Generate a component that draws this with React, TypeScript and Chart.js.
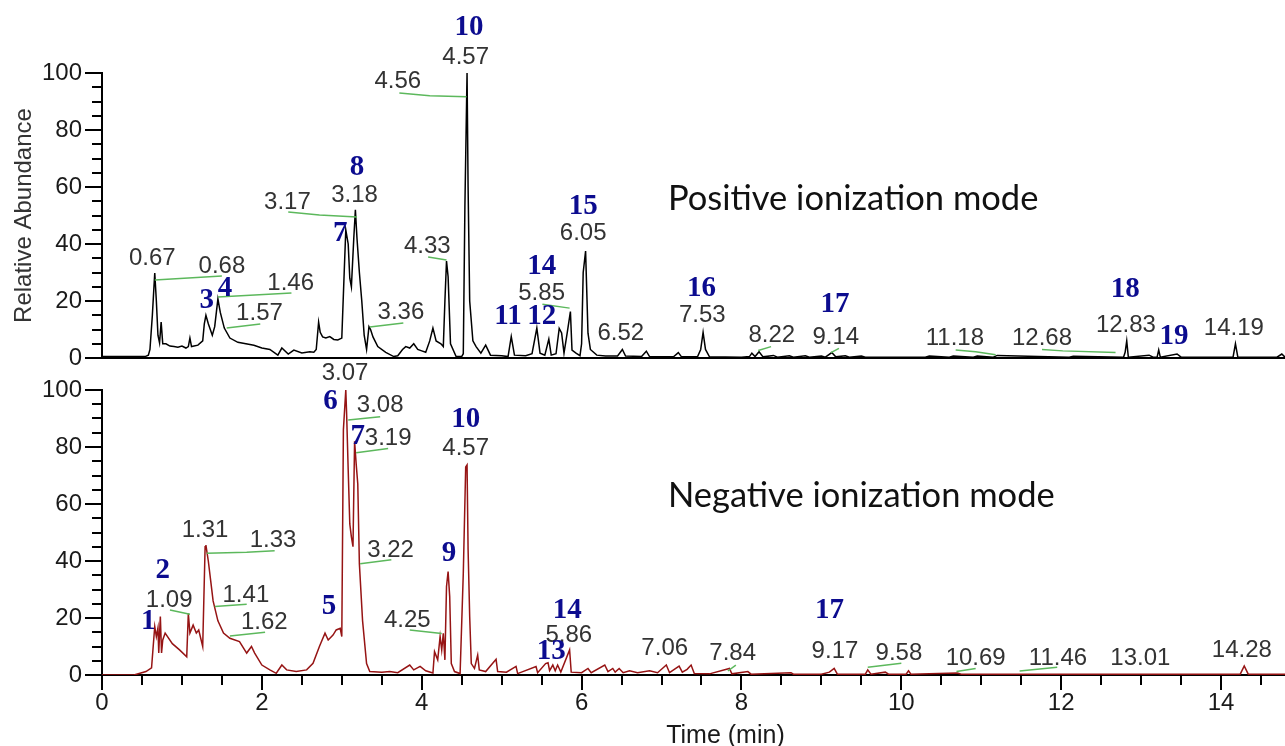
import React, { useEffect, useRef } from "react";
import { Chart, registerables } from "chart.js";
Chart.register(...registerables);

// ---------- Positive ionization mode (black trace) ----------
const posTime = [
  0, 0.54, 0.58, 0.6, 0.63, 0.65, 0.66, 0.68, 0.7, 0.72, 0.74, 0.76, 0.8, 0.85, 0.9, 0.95, 1.0, 1.05, 1.08, 1.1,
  1.12, 1.2, 1.26, 1.28, 1.3, 1.33, 1.38, 1.41, 1.45, 1.48, 1.53, 1.6, 1.7, 1.8, 1.9, 2.0, 2.1, 2.2, 2.25, 2.33,
  2.4, 2.5, 2.6, 2.65, 2.68, 2.71, 2.73, 2.76, 2.8, 2.85, 2.9, 2.95, 3.0, 3.03, 3.05, 3.08, 3.1, 3.12, 3.15, 3.17,
  3.19, 3.22, 3.25, 3.28, 3.31, 3.34, 3.36, 3.39, 3.45, 3.55, 3.65, 3.7, 3.76, 3.8, 3.85, 3.9, 3.95, 4.0, 4.05, 4.1,
  4.14, 4.18, 4.24, 4.27, 4.29, 4.31, 4.33, 4.36, 4.43, 4.5, 4.52, 4.54, 4.567, 4.58, 4.6, 4.64, 4.68, 4.74, 4.8, 4.86,
  5.0, 5.08, 5.12, 5.16, 5.3, 5.38, 5.44, 5.48, 5.54, 5.59, 5.62, 5.68, 5.72, 5.75, 5.78, 5.82, 5.86, 5.88, 5.93, 5.98,
  6.0, 6.02, 6.05, 6.08, 6.11, 6.19, 6.3, 6.45, 6.51, 6.55, 6.75, 6.81, 6.85, 7.15, 7.21, 7.25, 7.45, 7.49, 7.52, 7.55,
  7.6, 8.0, 8.1, 8.13, 8.17, 8.22, 8.27, 8.4, 8.45, 8.6, 8.65, 8.8, 8.85, 9.0, 9.05, 9.13, 9.18, 9.3, 9.35, 9.5,
  9.55, 10.3, 10.35, 10.6, 10.65, 10.9, 10.95, 11.15, 11.2, 12.1, 12.15, 12.78, 12.8, 12.82, 12.84, 13.1, 13.15, 13.2, 13.22, 13.24,
  13.45, 13.5, 14.15, 14.18, 14.21, 14.7, 14.76, 14.8,
];
const posAbund = [
  0.5, 0.5, 1, 3, 15, 25, 29.8, 20, 8, 5.3, 12.6, 5, 5, 4.2, 4, 3.8, 4.2, 3.5, 4, 7,
  4, 4.5, 6, 12, 15, 12, 8, 11, 20.7, 16, 10.5, 7, 5.5, 5, 4.5, 3.5, 3, 1, 3.5, 1.4,
  2.8, 1.8, 2.2, 2, 3, 12.6, 9, 7.4, 7, 7.5, 6.5, 6.3, 7, 30, 45, 40, 28, 25, 42, 52,
  42, 30, 20, 8, 3, 11, 10, 7.4, 4, 2, 0.5, 0.8, 3, 4, 3.5, 5, 3, 2.5, 2, 6,
  10.5, 6, 5, 4, 20, 34, 28.5, 5, 0.5, 0.5, 1.5, 53, 100, 60, 20, 6, 4, 1.7, 4.5, 1,
  0.8, 0.5, 7.5, 1, 0.8, 1.5, 10.5, 1.7, 1, 6.6, 1, 1.5, 10.4, 8.8, 1.7, 8.8, 16.3, 2.8, 1.7, 0.8,
  5, 30, 37.5, 8.7, 3, 1, 0.7, 0.7, 3, 0.7, 0.5, 2.4, 0.5, 0.4, 1.9, 0.4, 0.4, 3, 9, 3,
  0.4, 0.3, 0.5, 1.7, 0.5, 2.2, 0.4, 0.9, 0.3, 0.8, 0.3, 0.8, 0.3, 0.7, 0.3, 1.9, 0.4, 0.8, 0.3, 0.7,
  0.3, 0.3, 0.7, 0.3, 0.7, 0.3, 0.7, 0.3, 0.9, 0.3, 0.6, 0.3, 2, 6, 0.3, 1, 0.3, 0.3, 2.8, 0.3,
  1.4, 0.3, 0.3, 5, 0.3, 0.3, 1.4, 0.3,
];

// ---------- Negative ionization mode (dark red trace) ----------
const negTime = [
  0, 0.4, 0.55, 0.62, 0.65, 0.66, 0.68, 0.7, 0.71, 0.73, 0.745, 0.76, 0.79, 0.88, 0.97, 1.06, 1.08, 1.1, 1.14, 1.18,
  1.21, 1.26, 1.29, 1.3, 1.33, 1.36, 1.39, 1.45, 1.52, 1.6, 1.72, 1.81, 1.87, 1.91, 2.0, 2.1, 2.18, 2.25, 2.31, 2.43,
  2.56, 2.64, 2.72, 2.79, 2.83, 2.89, 2.93, 2.98, 3.0, 3.02, 3.05, 3.06, 3.08, 3.1, 3.12, 3.14, 3.16, 3.18, 3.2, 3.22,
  3.26, 3.31, 3.35, 3.5, 3.6, 3.7, 3.85, 3.9, 3.98, 4.05, 4.14, 4.16, 4.2, 4.23, 4.25, 4.27, 4.29, 4.31, 4.33, 4.35,
  4.37, 4.41, 4.48, 4.52, 4.55, 4.567, 4.58, 4.6, 4.62, 4.66, 4.7, 4.72, 4.8, 4.93, 4.95, 5.06, 5.18, 5.2, 5.43, 5.45,
  5.55, 5.58, 5.6, 5.64, 5.67, 5.7, 5.74, 5.85, 5.87, 6.0, 6.08, 6.12, 6.29, 6.33, 6.39, 6.42, 6.47, 6.52, 6.6, 6.7,
  6.85, 6.95, 7.06, 7.1, 7.22, 7.26, 7.32, 7.37, 7.41, 7.6, 7.85, 7.88, 8.08, 8.12, 8.62, 8.65, 9.0, 9.1, 9.16, 9.2,
  9.55, 9.58, 9.62, 9.8, 9.84, 10.06, 10.09, 10.12, 10.7, 10.75, 14.24, 14.29, 14.34, 14.8,
];
const negAbund = [
  0, 0, 1.2, 2.5, 13.5, 17, 13.5, 16.5, 7.7, 20.5, 7.7, 12.3, 14.7, 11, 8.8, 6.4, 21.6, 14.7, 17.5, 14.7,
  15.8, 10, 45, 45.6, 40, 33, 26, 19, 14.7, 12.9, 11.7, 7.7, 10, 7.7, 3.5, 1.8, 0.6, 3.5, 1.8, 1.2,
  1.8, 4.1, 10, 14.7, 12.3, 14, 15.8, 16.4, 13.5, 86, 100, 92, 72, 53, 48.5, 45, 82, 74, 67, 39,
  19, 4, 1.2, 1, 1.2, 0.8, 3.5, 1.8, 3, 1.5, 0.7, 8.2, 5.3, 13.5, 8.8, 14.6, 5.3, 31, 36.3, 27.5,
  4, 1.2, 0.5, 35.7, 73, 73.7, 44, 20.5, 4, 2.3, 7, 1.8, 1.2, 5.5, 1.2, 1, 3, 0.5, 3, 0.8,
  4, 4.3, 1.5, 3.5, 1.5, 3.5, 1, 8.8, 1, 0.8, 2.3, 0.8, 3.5, 1.2, 2.3, 1, 2.3, 0.8, 1.5, 0.8,
  1.5, 0.8, 3.5, 0.8, 3.1, 1, 2, 3.5, 0.5, 0.4, 2.3, 0.4, 1.2, 0.3, 0.8, 0.3, 0.3, 1, 2.3, 0.3,
  0.3, 1.8, 0.3, 1, 0.3, 0.3, 1.5, 0.3, 0.7, 0.3, 0.3, 3.2, 0.3, 0.3,
];

// ---------- Axis ticks ----------
const xTickValues = [0, 0.5, 1, 1.5, 2, 2.5, 3, 3.5, 4, 4.5, 5, 5.5, 6, 6.5, 7, 7.5, 8, 8.5, 9, 9.5, 10, 10.5, 11, 11.5, 12, 12.5, 13, 13.5, 14, 14.5];
const xLabelValues = [0, 2, 4, 6, 8, 10, 12, 14];
const yTickValues = [0, 5, 10, 15, 20, 25, 30, 35, 40, 45, 50, 55, 60, 65, 70, 75, 80, 85, 90, 95, 100];
const yLabelValues = [0, 20, 40, 60, 80, 100];

// ---------- Annotations: [text, time, abundance] ----------
type Lbl = [string, number, number];
const posRtLabels: Lbl[] = [
  ["0.67", 0.63, 35], ["0.68", 1.5, 32], ["1.46", 2.36, 26.3], ["1.57", 1.97, 15.8], ["3.17", 2.32, 54.7],
  ["3.18", 3.16, 57.2], ["3.36", 3.74, 16.1], ["4.33", 4.07, 39], ["4.56", 3.7, 97], ["4.57", 4.55, 105.6],
  ["5.85", 5.5, 22.8], ["6.05", 6.02, 43.8], ["6.52", 6.49, 8.8], ["7.53", 7.51, 15.1], ["8.22", 8.38, 8.1],
  ["9.14", 9.18, 7.4], ["11.18", 10.67, 7], ["12.68", 11.76, 7], ["12.83", 12.81, 11.6], ["14.19", 14.16, 10.5],
];
const posCompounds: Lbl[] = [
  ["3", 1.31, 20.3], ["4", 1.54, 24.5], ["7", 2.98, 43.8], ["8", 3.19, 67], ["10", 4.59, 116], ["11", 5.08, 14.4],
  ["12", 5.5, 14.4], ["14", 5.5, 32], ["15", 6.02, 53], ["16", 7.5, 24.5], ["17", 9.17, 18.6], ["18", 12.8, 23.9],
  ["19", 13.41, 7.4],
];
const posLeaders: number[][] = [
  [0.66, 27.4, 1.5, 28.8], [1.45, 21.4, 2.37, 22.8], [1.56, 10.5, 1.98, 11.9], [2.33, 51.2, 2.72, 50.2, 3.19, 49.5],
  [3.35, 10.9, 3.77, 12.3], [4.08, 35.4, 4.31, 34.4], [3.72, 93, 4.1, 92, 4.56, 91.7], [5.51, 18.9, 5.85, 17.5],
  [8.21, 2.6, 8.37, 4], [9.12, 1.9, 9.22, 3.4], [10.68, 2.8, 10.93, 2.2, 11.18, 1.1], [11.76, 3, 12.02, 2.5, 12.68, 1.9],
];
const negRtLabels: Lbl[] = [
  ["3.07", 3.04, 106], ["3.08", 3.48, 94.7], ["3.19", 3.58, 83.2], ["1.31", 1.29, 50.9], ["1.33", 2.14, 47.4],
  ["1.41", 1.8, 28], ["1.62", 2.03, 18.4], ["1.09", 0.84, 26.3], ["3.22", 3.61, 43.9], ["4.25", 3.82, 19.3],
  ["4.57", 4.55, 79.6], ["5.86", 5.84, 14], ["7.06", 7.04, 9.4], ["7.84", 7.89, 7.6], ["9.17", 9.17, 8.2],
  ["9.58", 9.97, 7.6], ["10.69", 10.93, 5.8], ["11.46", 11.96, 5.9], ["13.01", 12.99, 5.9], ["14.28", 14.26, 8.8],
];
const negCompounds: Lbl[] = [
  ["1", 0.58, 18.7], ["2", 0.76, 36.8], ["5", 2.84, 24], ["6", 2.86, 95.9], ["7", 3.2, 83.6], ["9", 4.34, 42.7],
  ["10", 4.55, 89.5], ["13", 5.62, 8.2], ["14", 5.82, 22.8], ["17", 9.1, 22.8],
];
const negLeaders: number[][] = [
  [0.85, 22.8, 1.1, 21.3], [1.31, 42.7, 1.81, 43.1, 2.16, 43.6], [1.41, 24, 1.81, 24.8], [1.6, 13.7, 2.04, 15],
  [3.08, 89.5, 3.48, 90.6], [3.18, 78, 3.58, 79.5], [3.23, 39, 3.62, 40.4], [3.85, 15.8, 4.25, 14.6],
  [7.83, 1.4, 7.93, 3.5], [9.58, 2.7, 10.0, 4.1], [10.69, 1.2, 10.93, 2.3], [11.48, 1.4, 11.95, 2.7],
];

const SANS = '"Liberation Sans", Arial, sans-serif';
const SERIF = '"Liberation Serif", "Times New Roman", serif';

interface Cfg {
  times: number[];
  values: number[];
  color: string;
  padTop: number;
  xHeight: number;
  showX: boolean;
  yTitle: string;
  rtLabels: Lbl[];
  compounds: Lbl[];
  leaders: number[][];
  mode: string;
  modeAt: [number, number];
}

function build(canvas: HTMLCanvasElement, c: Cfg) {
  const drawPlugin = {
    id: "drawExtras",
    afterDatasetsDraw(chart: any) {
      const ctx = chart.ctx as CanvasRenderingContext2D;
      const xs = chart.scales.x;
      const ys = chart.scales.y;
      const X = (t: number) => xs.getPixelForValue(t);
      const Y = (v: number) => ys.getPixelForValue(v);
      ctx.save();
      // tick marks
      ctx.strokeStyle = "#000";
      ctx.lineWidth = 2;
      const ax = chart.chartArea.left;
      yTickValues.forEach((v) => {
        const len = yLabelValues.includes(v) ? 17 : 10;
        const py = Math.round(Y(v));
        ctx.beginPath();
        ctx.moveTo(ax - len, py);
        ctx.lineTo(ax, py);
        ctx.stroke();
      });
      if (c.showX) {
        const ay = chart.chartArea.bottom;
        xTickValues.forEach((t) => {
          const len = xLabelValues.includes(t) ? 15 : 10;
          const px = Math.round(X(t));
          ctx.beginPath();
          ctx.moveTo(px, ay);
          ctx.lineTo(px, ay + len);
          ctx.stroke();
        });
        ctx.fillStyle = "#1a1a1a";
        ctx.font = `25px ${SANS}`;
        ctx.textAlign = "center";
        ctx.textBaseline = "middle";
        ctx.fillText("Time (min)", X(7.8), ay + 61);
      }
      // leader lines
      ctx.strokeStyle = "#5cb85c";
      ctx.lineWidth = 1.5;
      c.leaders.forEach((seg) => {
        ctx.beginPath();
        for (let i = 0; i < seg.length; i += 2) {
          const px = X(seg[i]);
          const py = Y(seg[i + 1]);
          if (i === 0) ctx.moveTo(px, py);
          else ctx.lineTo(px, py);
        }
        ctx.stroke();
      });
      // retention time labels
      ctx.textAlign = "center";
      ctx.textBaseline = "middle";
      ctx.fillStyle = "#333";
      ctx.font = `24px ${SANS}`;
      c.rtLabels.forEach(([s, t, v]) => ctx.fillText(s, X(t), Y(v)));
      // compound numbers
      ctx.fillStyle = "#0c0c8f";
      ctx.font = `bold 29px ${SERIF}`;
      c.compounds.forEach(([s, t, v]) => ctx.fillText(s, X(t), Y(v)));
      // mode text
      ctx.fillStyle = "#111";
      ctx.textAlign = "left";
      ctx.textBaseline = "alphabetic";
      ctx.font = `34.5px Lato, "Open Sans", sans-serif`;
      ctx.fillText(c.mode, X(c.modeAt[0]), Y(c.modeAt[1]));
      ctx.restore();
    },
  };

  return new Chart(canvas, {
    type: "line",
    data: {
      datasets: [
        {
          data: c.times.map((t, i) => ({ x: t, y: c.values[i] })),
          borderColor: c.color,
          borderWidth: 1.5,
          pointRadius: 0,
          tension: 0,
          fill: false,
        },
      ],
    },
    options: {
      animation: false,
      responsive: false,
      maintainAspectRatio: false,
      layout: { padding: { top: c.padTop, left: 0, right: 0, bottom: 0 } },
      plugins: { legend: { display: false }, tooltip: { enabled: false } },
      scales: {
        x: {
          type: "linear",
          min: 0,
          max: 14.8,
          afterFit: (s: any) => {
            s.height = c.xHeight;
            s.paddingLeft = 0;
            s.paddingRight = 0;
          },
          afterBuildTicks: (s: any) => {
            s.ticks = xTickValues.map((v) => ({ value: v }));
          },
          grid: { display: false, drawTicks: false },
          border: { display: true, color: "#000", width: 2 },
          ticks: {
            display: c.showX,
            autoSkip: false,
            maxRotation: 0,
            padding: 14,
            color: "#1a1a1a",
            font: { family: SANS, size: 24 },
            callback: (v: any) => (xLabelValues.includes(Number(v)) ? String(v) : ""),
          },
        },
        y: {
          type: "linear",
          min: 0,
          max: 100,
          afterFit: (s: any) => {
            s.width = 102;
            s.paddingTop = 0;
            s.paddingBottom = 0;
          },
          afterBuildTicks: (s: any) => {
            s.ticks = yTickValues.map((v) => ({ value: v }));
          },
          grid: { display: false, drawTicks: false },
          border: { display: true, color: "#000", width: 2 },
          ticks: {
            autoSkip: false,
            padding: 20,
            color: "#1a1a1a",
            font: { family: SANS, size: 24 },
            callback: (v: any) => (yLabelValues.includes(Number(v)) ? String(v) : ""),
          },
          title: {
            display: c.yTitle !== "",
            text: c.yTitle,
            color: "#333",
            font: { family: SANS, size: 24 },
            padding: { top: 10, bottom: 0 },
          },
        },
      },
    },
    plugins: [drawPlugin],
  } as any);
}

export default function App() {
  const topRef = useRef<HTMLCanvasElement>(null);
  const botRef = useRef<HTMLCanvasElement>(null);

  useEffect(() => {
    const top = build(topRef.current!, {
      times: posTime,
      values: posAbund,
      color: "#000000",
      padTop: 73,
      xHeight: 14,
      showX: false,
      yTitle: "Relative Abundance",
      rtLabels: posRtLabels,
      compounds: posCompounds,
      leaders: posLeaders,
      mode: "Positive ionization mode",
      modeAt: [7.08, 51.9],
    });
    const bot = build(botRef.current!, {
      times: negTime,
      values: negAbund,
      color: "#961414",
      padTop: 35,
      xHeight: 71,
      showX: true,
      yTitle: "",
      rtLabels: negRtLabels,
      compounds: negCompounds,
      leaders: negLeaders,
      mode: "Negative ionization mode",
      modeAt: [7.08, 59],
    });
    return () => {
      top.destroy();
      bot.destroy();
    };
  }, []);

  return (
    <div style={{ position: "absolute", left: 0, top: 0, width: 1285, height: 746, background: "#fff", overflow: "hidden" }}>
      <canvas ref={topRef} width={1285} height={372} style={{ position: "absolute", left: 0, top: 0 }} />
      <canvas ref={botRef} width={1285} height={391} style={{ position: "absolute", left: 0, top: 355 }} />
    </div>
  );
}
